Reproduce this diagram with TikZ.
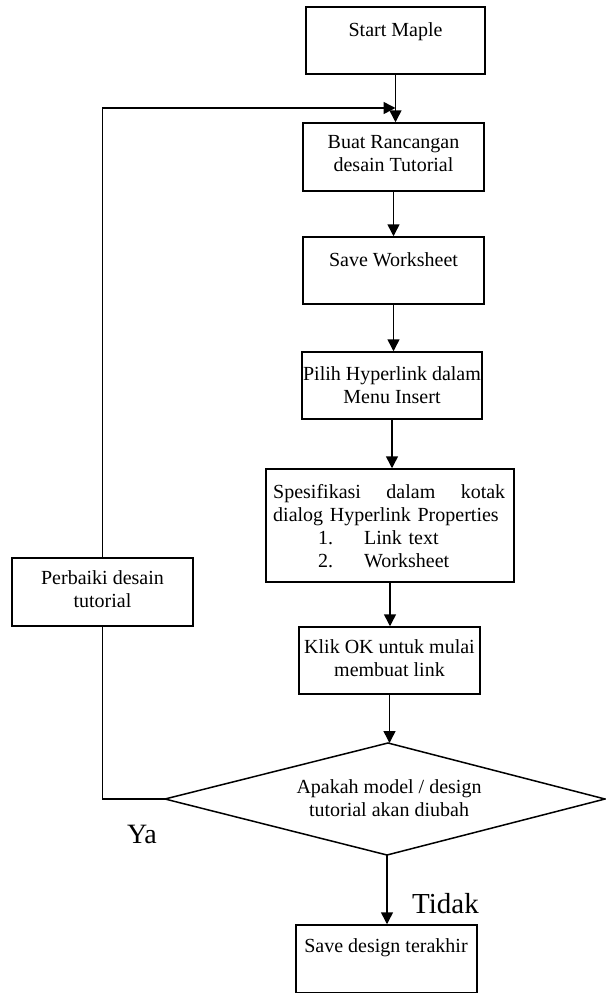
\documentclass[tikz,border=0pt]{standalone}
\usepackage{fontspec}
\setmainfont{Liberation Serif}
\usetikzlibrary{arrows.meta}
\tikzset{
  box/.style={draw, line width=1.5pt, rectangle, inner sep=0pt, fill=white},
  txt/.style={font=\fontsize{20}{23}\selectfont, inner sep=0pt, align=center, anchor=north, execute at begin node=\strut},
  arr/.style={-{Triangle[length=12pt,width=12pt]}, line width=1.5pt},
  plain/.style={line width=1.5pt},
}
\begin{document}
\begin{tikzpicture}[x=1pt,y=-1pt]
\useasboundingbox (0,0) rectangle (605,993);

% diamond corners
\coordinate (dT) at (388,743);
\coordinate (dR) at (605,799);
\coordinate (dB) at (387,855);
\coordinate (dL) at (165,799);
\coordinate (fbend) at (395.5,108);

% boxes
\node[box, minimum width=181pt, minimum height=68pt] (perb) at (102.5,592) {};
\node[box, minimum width=179pt, minimum height=67pt] (start) at (395.5,40.5) {};
\node[box, minimum width=181pt, minimum height=68pt] (buat) at (393.5,157) {};
\node[box, minimum width=181pt, minimum height=67pt] (save) at (393.5,270.5) {};
\node[box, minimum width=180pt, minimum height=67pt] (pilih) at (392,385.5) {};
\node[box, minimum width=248pt, minimum height=113pt] (spes) at (390,525.5) {};
\node[box, minimum width=181pt, minimum height=67pt] (klik) at (389.5,660.5) {};
\node[box, minimum width=181pt, minimum height=68pt] (savedes) at (386.5,959) {};

% decision diamond
\draw[plain, fill=white] (dT) -- (dR) -- (dB) -- (dL) -- cycle;

% texts
\node[txt] (startT) at (395.5,19.9) {Start Maple};
\node[txt] (buatT) at (393.5,134.9) {Buat Rancangan\\desain Tutorial};
\node[txt] (saveT) at (393.5,249.9) {Save Worksheet};
\node[txt] (pilihT) at (392,366.9) {Pilih Hyperlink dalam\\Menu Insert};
\node[txt, anchor=north west, align=left, text width=232pt] (spesT) at (273,481.9)
  {\hbox to 232pt{Spesifikasi\hfill dalam\hfill kotak}\\
   dialog Hyperlink Properties\\
   \hspace*{45pt}\makebox[46pt][l]{1.}Link text\\
   \hspace*{45pt}\makebox[46pt][l]{2.}Worksheet};
\node[txt] (perbT) at (102.5,570.9) {Perbaiki desain\\tutorial};
\node[txt] (klikT) at (389.5,639.9) {Klik OK untuk mulai\\membuat link};
\node[txt] (dT1) at (389,779.9) {Apakah model / design\\tutorial akan diubah};
\node[txt] (savedesT) at (386,935.9) {Save design terakhir};
\node[font=\fontsize{28}{32}\selectfont, inner sep=0pt, anchor=base] (ya) at (142,843) {Ya};
\node[font=\fontsize{29}{33}\selectfont, inner sep=0pt, anchor=base west] (tidak) at (412,913) {Tidak};

% connectors
\draw[plain] (dL) -| (perb.south);
\draw[arr] (perb.north) |- (fbend);
\draw[arr] (start.south) -- (start.south |- buat.north);
\draw[arr] (buat.south) -- (buat.south |- save.north);
\draw[arr] (save.south) -- (save.south |- pilih.north);
\draw[arr] (pilih.south) -- (pilih.south |- spes.north);
\draw[arr] (spes.south) -- (spes.south |- klik.north);
\draw[arr] (klik.south) -- (klik.south |- dT);
\draw[arr] (dB) -- (dB |- savedes.north);
\end{tikzpicture}
\end{document}
